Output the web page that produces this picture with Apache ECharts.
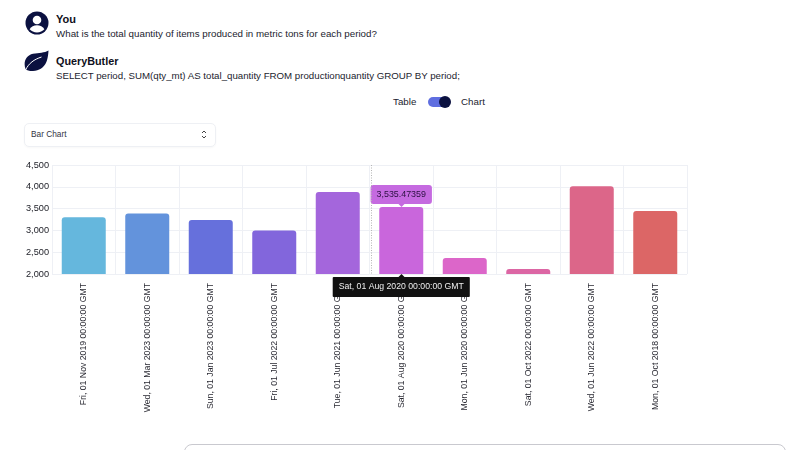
<!DOCTYPE html>
<html><head><meta charset="utf-8">
<script src="https://cdn.jsdelivr.net/npm/echarts@6/dist/echarts.min.js"></script>
<style>
html,body{margin:0;padding:0;background:#fff;width:800px;height:450px;overflow:hidden;font-family:"Liberation Sans",sans-serif;color:#0f1020}
.t{position:absolute;white-space:nowrap}
#chart{position:absolute;left:0;top:150px;width:800px;height:300px}
</style></head><body>
<svg class="t" style="left:25px;top:11px" width="24" height="24" viewBox="0 0 24 24"><circle cx="12" cy="12" r="11.5" fill="#0b1140"/><circle cx="12" cy="9" r="4.3" fill="#fff"/><path d="M4.6 18.2c1.6-2.8 4.2-4 7.4-4s5.8 1.2 7.4 4c-1.8 2-4.4 3.2-7.4 3.2s-5.6-1.2-7.4-3.2z" fill="#fff"/></svg>
<div class="t" style="left:56px;top:13px;font-size:11px;font-weight:700">You</div>
<div class="t" style="left:56px;top:28px;font-size:9.75px;color:#22232e">What is the total quantity of items produced in metric tons for each period?</div>
<svg class="t" style="left:24px;top:50px" width="25" height="22" viewBox="0 0 25 22"><path d="M24.5 0.5C24 10 22 20 9 21C6 21.2 3 20.5 1.5 19C-1 12 2 5.5 9 3.8C15 2.6 20.5 3 24.5 .5z" fill="#0b1140"/><path d="M1.5 20C5 13 10 9.5 17.5 7" fill="none" stroke="#fff" stroke-width="1"/></svg>
<div class="t" style="left:56px;top:55px;font-size:10.8px;font-weight:700">QueryButler</div>
<div class="t" style="left:56px;top:70px;font-size:9.7px;color:#22232e">SELECT period, SUM(qty_mt) AS total_quantity FROM productionquantity GROUP BY period;</div>
<div class="t" style="left:393px;top:96px;font-size:9.75px;color:#22232e">Table</div>
<div class="t" style="left:461px;top:96px;font-size:9.75px;color:#22232e">Chart</div>
<div class="t" style="left:428px;top:97px;width:22px;height:10px;background:#5f6ee0;border-radius:5px"></div>
<div class="t" style="left:439px;top:96px;width:12px;height:12px;background:#0b1140;border-radius:50%"></div>
<div class="t" style="left:24px;top:123px;width:190px;height:22px;border:1px solid #eef0f4;border-radius:5px;box-shadow:0 1px 2px rgba(0,0,0,.03)"></div>
<div class="t" style="left:31px;top:129px;font-size:8.3px;color:#33343f">Bar Chart</div>
<svg class="t" style="left:201px;top:130px" width="6" height="9" viewBox="0 0 6 9"><path d="M1 3L3 1L5 3M1 6L3 8L5 6" fill="none" stroke="#444" stroke-width="1"/></svg>
<div class="t" style="left:184px;top:444px;width:600px;height:20px;border:1px solid #c9c9cf;border-radius:8px"></div>
<div id="chart"></div>
<script>
const categories=["Fri, 01 Nov 2019 00:00:00 GMT","Wed, 01 Mar 2023 00:00:00 GMT","Sun, 01 Jan 2023 00:00:00 GMT","Fri, 01 Jul 2022 00:00:00 GMT","Tue, 01 Jun 2021 00:00:00 GMT","Sat, 01 Aug 2020 00:00:00 GMT","Mon, 01 Jun 2020 00:00:00 GMT","Sat, 01 Oct 2022 00:00:00 GMT","Wed, 01 Jun 2022 00:00:00 GMT","Mon, 01 Oct 2018 00:00:00 GMT"];
const values=[3300,3385,3238,3000,3880,3535.47359,2367,2115,4015,3445];
const colors=["#65b7dd","#6393dc","#6670dc","#8266dc","#a466dc","#c966dc","#dc66c9","#dc66a4","#dc6689","#dc6666"];
const activeIndex=5;
const font='"Liberation Sans"';
const chart=echarts.init(document.getElementById('chart'),null,{renderer:'canvas'});
chart.setOption({
 animation:false,
 grid:{left:52,right:113,top:15,height:109},
 xAxis:{type:'category',data:categories,
  axisLine:{show:false},axisTick:{show:false},
  splitLine:{show:true,lineStyle:{color:'#eef0f5',width:1}},
  axisLabel:{rotate:90,interval:0,margin:9,fontSize:8.7,color:'#2a2a33',fontFamily:font},
  axisPointer:{show:true,status:'show',value:categories[activeIndex],type:'none',
   label:{show:true,margin:3,fontSize:8.7,fontFamily:font,color:'#eee',backgroundColor:'#111',padding:[5.5,6],borderRadius:1,shadowBlur:0}}},
 yAxis:{type:'value',min:2000,max:4500,interval:500,
  axisLine:{show:false},axisTick:{show:false},
  splitLine:{lineStyle:{color:'#eef0f5',width:1}},
  axisLabel:{margin:3,fontSize:9.2,color:'#22232b',fontFamily:font,formatter:v=>v.toLocaleString('en-US')}},
 series:[{type:'bar',barWidth:44,
  data:values.map((v,i)=>({value:v,
   itemStyle:{color:colors[i],borderRadius:[3,3,0,0]},
   label:i===activeIndex?{show:true,position:'top',distance:3,
     formatter:()=>v.toLocaleString('en-US',{maximumFractionDigits:5}),
     fontSize:8.9,fontFamily:font,color:'#2a1040',backgroundColor:'#c56ae0',
     padding:[5,6],borderRadius:3}:{show:false}}))}],
 graphic:[
  {type:'line',z:5,shape:{x1:371.5,y1:15,x2:371.5,y2:124},style:{stroke:'#b5b5b5',lineDash:[1,1.5],lineWidth:1}},
  {type:'polygon',z:100,shape:{points:[[398.5,54],[404.5,54],[401.5,57]]},style:{fill:'#c56ae0'}},
  {type:'polygon',z:100,shape:{points:[[398.5,127],[404.5,127],[401.5,124]]},style:{fill:'#111'}}
 ]
});
</script></body></html>
